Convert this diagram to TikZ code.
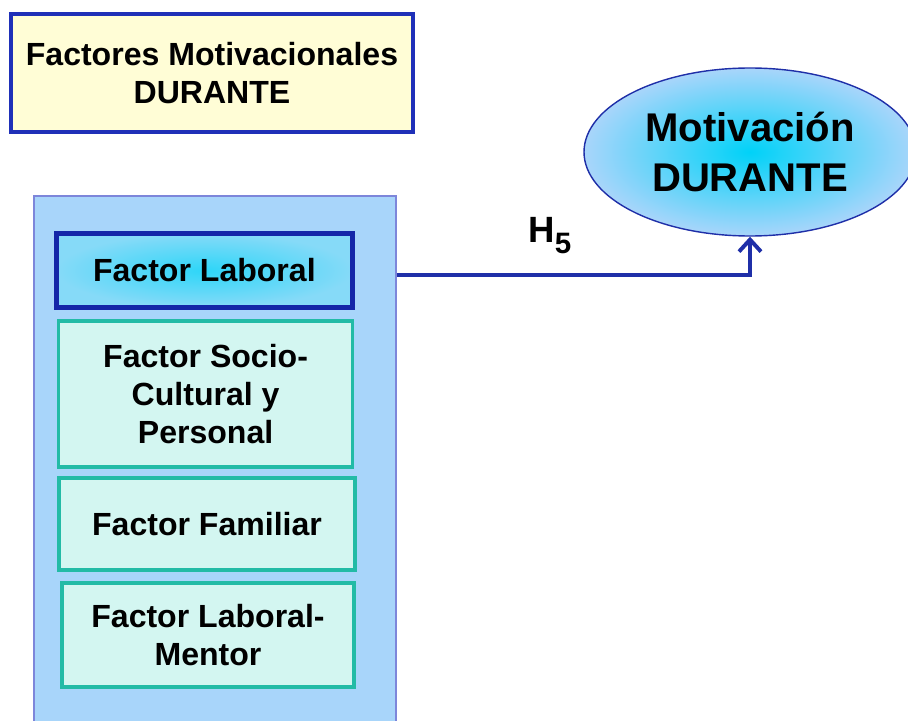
\documentclass[tikz,border=0pt]{standalone}
\usepackage{fontspec}
\setmainfont{Liberation Sans}
\usetikzlibrary{positioning,calc,arrows.meta,shapes.geometric}
\definecolor{titlebg}{HTML}{FFFDD6}
\definecolor{titleline}{HTML}{1F30B8}
\definecolor{panelbg}{HTML}{A8D5FA}
\definecolor{panelline}{HTML}{7D86DA}
\definecolor{labline}{HTML}{1426A8}
\definecolor{labin}{HTML}{2ED6F8}
\definecolor{labout}{HTML}{86DAF8}
\definecolor{tealbg}{HTML}{D3F6F1}
\definecolor{tealline}{HTML}{22BBA6}
\definecolor{ellin}{HTML}{00D2F8}
\definecolor{ellout}{HTML}{A9D5FA}
\definecolor{linkc}{HTML}{1F2FA8}

\begin{document}
\begin{tikzpicture}[
  txt/.style={font=\bfseries\fontsize{22.8}{27}\selectfont, align=center, text=black},
  factorbox/.style={txt, draw=tealline, line width=2.5pt, fill=tealbg, inner sep=0pt},
  link/.style={draw=linkc, line width=2.8pt, -{Straight Barb[length=0.3cm, width=0.55cm]}}
]
  \useasboundingbox (0,0) rectangle (22.7,18);

  % Title
  \node[txt, draw=titleline, line width=3pt, fill=titlebg,
        minimum width=10.05cm, minimum height=2.95cm] (title) at (5.3,16.175)
        {Factores Motivacionales\\DURANTE};

  % Panel of factors
  \node[draw=panelline, line width=1.3pt, fill=panelbg, minimum width=9.05cm,
        minimum height=13.6cm, anchor=north west] (panel) at (0.825,13.125) {};

  \node[txt, draw=labline, line width=3pt, inner color=labin, outer color=labout,
        minimum width=7.4cm, minimum height=1.85cm] (lab) at (5.11,11.24) {Factor Laboral};
  \node[factorbox, minimum width=7.35cm, minimum height=3.65cm] (socio) at (5.14,8.15)
        {Factor Socio-\\Cultural y\\Personal};
  \node[factorbox, minimum width=7.4cm, minimum height=2.3cm] (fam) at (5.175,4.9)
        {Factor Familiar};
  \node[factorbox, minimum width=7.3cm, minimum height=2.6cm] (mentor) at (5.2,2.125)
        {Factor Laboral-\\Mentor};

  % Outcome
  \node[ellipse, draw=linkc, line width=1pt, inner color=ellin, outer color=ellout,
        minimum width=8.3cm, minimum height=4.2cm, align=center,
        font=\bfseries\fontsize{28.5}{36}\selectfont] (motiv) at (18.75,14.2)
        {Motivación\\DURANTE};

  % Hypothesis H5
  \coordinate (h5start) at (panel.east |- 0,11.125);
  \draw[link] (h5start) -| (motiv.south);
  \node[font=\bfseries\fontsize{26}{30}\selectfont] (hyp) at (13.75,12.1)
        {H\raisebox{-0.3em}{\fontsize{21}{21}\selectfont 5}};
\end{tikzpicture}
\end{document}
